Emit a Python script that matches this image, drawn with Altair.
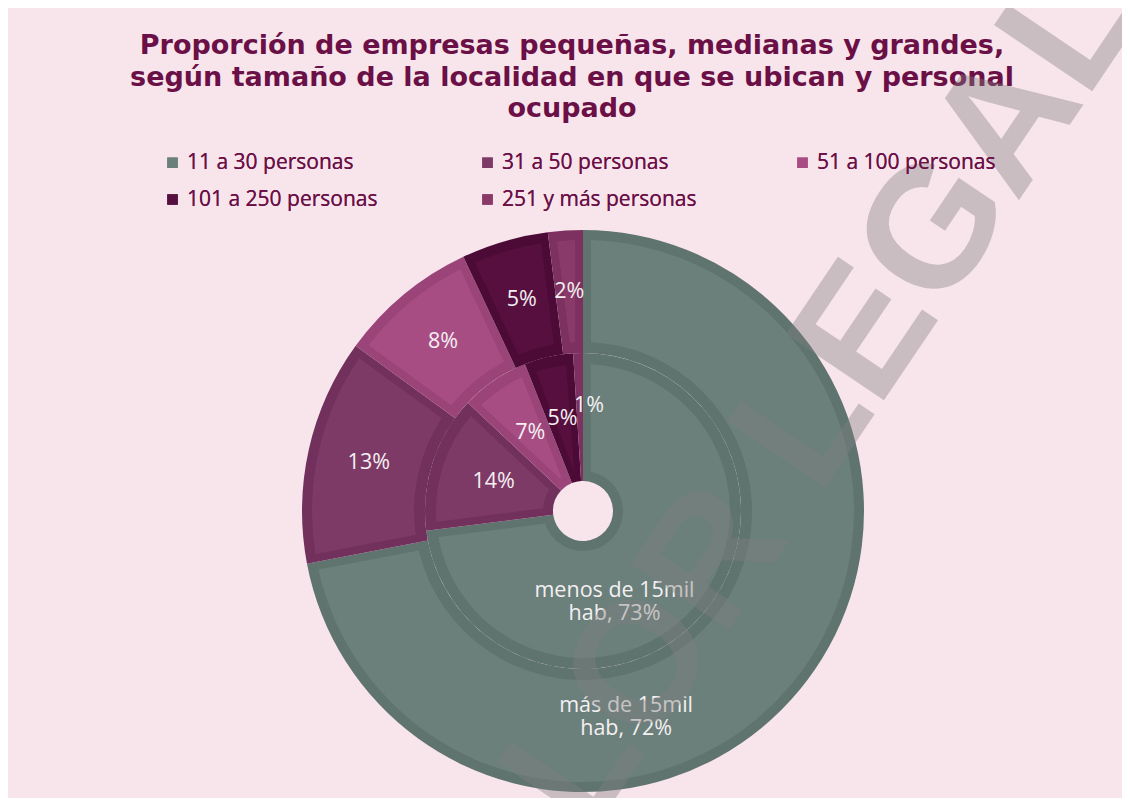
import altair as alt
import pandas as pd

# ---------------- data ----------------
categories = ["11 a 30 personas", "31 a 50 personas", "51 a 100 personas",
              "101 a 250 personas", "251 y más personas"]
rings = ["menos de 15mil hab", "más de 15mil hab"]
ring_line1 = ["menos de 15mil", "más de 15mil"]
inner_values = [73, 14, 7, 5, 1]   # menos de 15mil hab (inner ring)
outer_values = [72, 13, 8, 5, 2]   # más de 15mil hab (outer ring)

fill_colors = ["#6B7F7B", "#7E3A67", "#A84D84", "#570F3F", "#8A3A68"]
border_colors = ["#5F736F", "#72305D", "#9A4479", "#4C0B36", "#7C3160"]

title_text = ["Proporción de empresas pequeñas, medianas y grandes,\n"
              "según tamaño de la localidad en que se ubican y personal\n"
              "ocupado"]
watermark = ["SIN VALOR LEGAL"]

rows = []
for r, (ring, l1, vals) in enumerate(zip(rings, ring_line1, [inner_values, outer_values])):
    for i, (c, v) in enumerate(zip(categories, vals)):
        lab = f"{l1}\nhab, {v}%" if i == 0 else f"{v}%"
        rows.append(dict(ring=ring, cat=c, idx=i, value=v, label=lab))
df = pd.DataFrame(rows)

# ---------------- layout ----------------
CX, CY = 575, 373
HOLE, MID, OUT = 30, 158, 281
BW = 10
TITLE_COLOR = "#6B1046"
BG = "#F8E5EC"
FONT = "Open Sans"

theta_scale = alt.Scale(domain=[0, 100])

base = alt.Chart(df).transform_stack(
    stack="value", groupby=["ring"], as_=["v0", "v1"], sort=[alt.SortField("idx", order="ascending")]
).transform_calculate(mid="(datum.v0 + datum.v1) / 2")

arc_enc = dict(theta=alt.Theta("v0:Q", scale=theta_scale, stack=None), theta2="v1:Q",
               x=alt.value(CX), y=alt.value(CY))
txt_enc = dict(theta=alt.Theta("mid:Q", scale=theta_scale, stack=None),
               x=alt.value(CX), y=alt.value(CY), text="label:N")

dark_fill = alt.Fill("cat:N", scale=alt.Scale(domain=categories, range=border_colors), legend=None)
light_color = alt.Color(
    "cat:N",
    scale=alt.Scale(domain=categories, range=fill_colors),
    legend=alt.Legend(
        title=None, orient="none", legendX=154, legendY=14, columns=3,
        direction="horizontal", symbolType="square", symbolSize=110,
        labelFontSize=21, labelFont=FONT, labelColor=TITLE_COLOR,
        columnPadding=95, rowPadding=15, gridAlign="all", labelLimit=400,
        symbolStrokeWidth=0, labelOffset=4,
    ),
)

inner = base.transform_filter(alt.datum.ring == rings[0])
outer = base.transform_filter(alt.datum.ring == rings[1])

inner_dark = inner.mark_arc(innerRadius=HOLE, outerRadius=MID).encode(fill=dark_fill, **arc_enc)
inner_light = inner.mark_arc(innerRadius=HOLE + BW, outerRadius=MID - 11, padAngle=0.1).encode(color=light_color, **arc_enc)
outer_dark = outer.mark_arc(innerRadius=MID, outerRadius=OUT).encode(fill=dark_fill, **arc_enc)
outer_light = outer.mark_arc(innerRadius=MID + 11, outerRadius=OUT - BW, padAngle=0.05).encode(color=light_color, **arc_enc)

lab_style = dict(font=FONT, fontSize=21.5, color="#F4F0F2", lineBreak="\n", lineHeight=23,
                 align="center", baseline="middle")
RI, RO = (HOLE + MID) / 2, (MID + OUT) / 2
inner_lab = inner.transform_filter((alt.datum.idx > 0) & (alt.datum.idx < 4)).mark_text(radius=RI, **lab_style).encode(**txt_enc)
inner_tiny = inner.transform_filter(alt.datum.idx == 4).mark_text(radius=RI, dx=9, dy=-11, **lab_style).encode(**txt_enc)
outer_lab = outer.transform_filter(alt.datum.idx > 0).mark_text(radius=RO, **lab_style).encode(**txt_enc)
inner_big = inner.transform_filter(alt.datum.idx == 0).mark_text(radius=RI, dx=-39, dy=18, **lab_style).encode(**txt_enc)
outer_big = outer.transform_filter(alt.datum.idx == 0).mark_text(radius=RO, dx=-126, dy=55, **lab_style).encode(**txt_enc)

title = alt.Chart(pd.DataFrame({"t": title_text})).mark_text(
    font="DejaVu Sans", fontWeight="bold", fontSize=27, color=TITLE_COLOR,
    lineBreak="\n", lineHeight=31.5, align="center", baseline="top",
).encode(text="t:N", x=alt.value(564), y=alt.value(-105))

wm = alt.Chart(pd.DataFrame({"t": watermark})).mark_text(
    font="Liberation Sans", fontWeight="bold", fontSize=172, angle=304,
    color="#808080", opacity=0.39, align="center", baseline="alphabetic",
).encode(text="t:N", x=alt.value(702), y=alt.value(520))

chart = alt.layer(
    inner_dark, inner_light, outer_dark, outer_light,
    inner_lab, inner_tiny, outer_lab, inner_big, outer_big, title, wm,
).resolve_scale(fill="independent", color="independent").properties(
    width=1114, height=660,
    autosize=alt.AutoSizeParams(type="none"),
    padding={"left": 0, "top": 130, "right": 0, "bottom": 0},
).configure(background=BG).configure_view(stroke=None)

chart.save("out.html", embed_options={"renderer": "svg", "actions": False})
